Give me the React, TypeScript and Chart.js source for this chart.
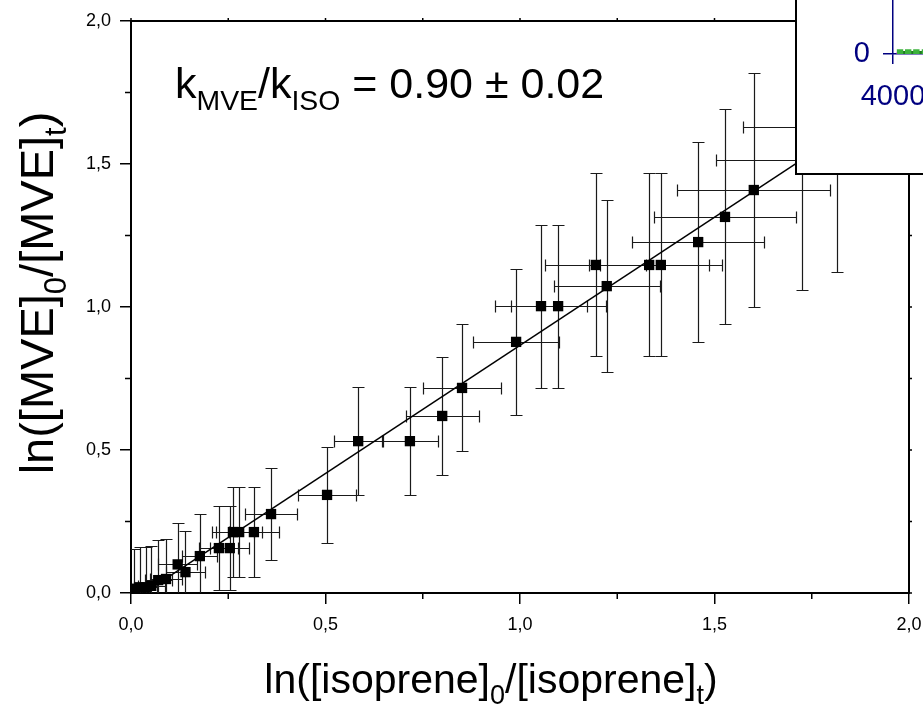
import React, { useEffect, useRef } from 'react';
import { Chart, registerables } from 'chart.js';

Chart.register(...registerables);

// ---------- data ----------
const isopreneLn = [0.008, 0.022, 0.038, 0.052, 0.07, 0.09, 0.12, 0.14, 0.177, 0.226, 0.254, 0.262, 0.278, 0.316, 0.36, 0.504, 0.584, 0.717, 0.80, 0.851, 0.99, 1.054, 1.098, 1.195, 1.223, 1.332, 1.362, 1.458, 1.527, 1.601, 1.725, 1.815];
const mveLn = [0.015, 0.02, 0.02, 0.025, 0.045, 0.049, 0.10, 0.073, 0.129, 0.157, 0.157, 0.213, 0.213, 0.213, 0.276, 0.343, 0.531, 0.531, 0.619, 0.717, 0.878, 1.003, 1.003, 1.147, 1.073, 1.147, 1.147, 1.227, 1.315, 1.409, 1.514, 1.63];
const isopreneErr = [0.02, 0.025, 0.03, 0.035, 0.035, 0.04, 0.05, 0.05, 0.045, 0.05, 0.05, 0.055, 0.06, 0.065, 0.067, 0.075, 0.063, 0.072, 0.094, 0.10, 0.11, 0.118, 0.122, 0.13, 0.136, 0.154, 0.157, 0.17, 0.183, 0.197, 0.221, 0.242];
const mveErr = [0.14, 0.14, 0.14, 0.14, 0.14, 0.14, 0.145, 0.145, 0.147, 0.147, 0.147, 0.157, 0.157, 0.157, 0.16, 0.168, 0.19, 0.19, 0.206, 0.222, 0.255, 0.285, 0.285, 0.32, 0.30, 0.32, 0.32, 0.35, 0.376, 0.41, 0.455, 0.508];

const fitLineX = [0, 2];
const fitLineY = [-0.03, 1.762];

const majorTicks = [0, 0.5, 1.0, 1.5, 2.0];
const minorTicks = [0.25, 0.75, 1.25, 1.75];

// inset (mostly cropped away in the reference)
const insetTime = [4090, 4195, 4300, 4410, 4520, 4630];
const insetGreen = [25, 25, 25, 25, 25, 25];
const insetMagenta = [10, 10, 10, 10, 10, 10];

// texts
const xTitleParts = [
  { t: 'ln([isoprene]' }, { t: '0', sub: true }, { t: '/[isoprene]' }, { t: 't', sub: true }, { t: ')' },
];
const yTitleParts = [
  { t: 'ln([MVE]' }, { t: '0', sub: true }, { t: '/[MVE]' }, { t: 't', sub: true }, { t: ')' },
];
const annotationParts = [
  { t: 'k' }, { t: 'MVE', sub: true }, { t: '/k' }, { t: 'ISO', sub: true }, { t: ' = 0.90 ± 0.02' },
];

const FONT = "'Liberation Sans', Arial, sans-serif";
const SUB = 0.66;

type Part = { t: string; sub?: boolean };

function richWidth(ctx: CanvasRenderingContext2D, parts: Part[], size: number) {
  let w = 0;
  for (const p of parts) {
    ctx.font = `${p.sub ? size * SUB : size}px ${FONT}`;
    w += ctx.measureText(p.t).width;
  }
  return w;
}

function drawRich(ctx: CanvasRenderingContext2D, parts: Part[], size: number, x: number, y: number) {
  let cx = x;
  ctx.textBaseline = 'alphabetic';
  ctx.textAlign = 'left';
  for (const p of parts) {
    const fs = p.sub ? size * SUB : size;
    ctx.font = `${fs}px ${FONT}`;
    ctx.fillText(p.t, cx, p.sub ? y + size * 0.28 : y);
    cx += ctx.measureText(p.t).width;
  }
}

const fmt = (v: number) => v.toFixed(1).replace('.', ',');

const errorBarPlugin = {
  id: 'errorBars',
  beforeDatasetsDraw(chart: any) {
    const { ctx, chartArea, scales } = chart;
    const xs = scales.x;
    const ys = scales.y;
    ctx.save();
    ctx.beginPath();
    ctx.rect(chartArea.left, chartArea.top, chartArea.right - chartArea.left, chartArea.bottom - chartArea.top);
    ctx.clip();
    ctx.strokeStyle = '#1a1a1a';
    ctx.lineWidth = 1.2;
    const cap = 6;
    for (let i = 0; i < isopreneLn.length; i++) {
      const px = Math.round(xs.getPixelForValue(isopreneLn[i])) + 0.5;
      const py = Math.round(ys.getPixelForValue(mveLn[i])) + 0.5;
      const x0 = Math.round(xs.getPixelForValue(isopreneLn[i] - isopreneErr[i])) + 0.5;
      const x1 = Math.round(xs.getPixelForValue(isopreneLn[i] + isopreneErr[i])) + 0.5;
      const y0 = Math.round(ys.getPixelForValue(mveLn[i] - mveErr[i])) + 0.5;
      const y1 = Math.round(ys.getPixelForValue(mveLn[i] + mveErr[i])) + 0.5;
      ctx.beginPath();
      ctx.moveTo(x0, py); ctx.lineTo(x1, py);
      ctx.moveTo(x0, py - cap); ctx.lineTo(x0, py + cap);
      ctx.moveTo(x1, py - cap); ctx.lineTo(x1, py + cap);
      ctx.moveTo(px, y0); ctx.lineTo(px, y1);
      ctx.moveTo(px - cap, y0); ctx.lineTo(px + cap, y0);
      ctx.moveTo(px - cap, y1); ctx.lineTo(px + cap, y1);
      ctx.stroke();
    }
    ctx.restore();
  },
};

const decorPlugin = {
  id: 'decor',
  afterDraw(chart: any) {
    const { ctx, chartArea, scales } = chart;
    const xs = scales.x;
    const ys = scales.y;
    ctx.save();
    // minor ticks (outward)
    ctx.strokeStyle = '#000';
    ctx.lineWidth = 1.5;
    ctx.beginPath();
    for (const v of minorTicks) {
      const px = xs.getPixelForValue(v);
      ctx.moveTo(px, chartArea.bottom);
      ctx.lineTo(px, chartArea.bottom + 6);
      const py = ys.getPixelForValue(v);
      ctx.moveTo(chartArea.left, py);
      ctx.lineTo(chartArea.left - 6, py);
    }
    // small ticks on top / right frame
    for (const v of [...majorTicks, ...minorTicks]) {
      const px = xs.getPixelForValue(v);
      ctx.moveTo(px, chartArea.top);
      ctx.lineTo(px, chartArea.top - 3);
      const py = ys.getPixelForValue(v);
      ctx.moveTo(chartArea.right, py);
      ctx.lineTo(chartArea.right + 3, py);
    }
    ctx.stroke();

    ctx.fillStyle = '#000';
    // x title
    const size = 41;
    const wx = richWidth(ctx, xTitleParts, size);
    drawRich(ctx, xTitleParts, size, 491 - wx / 2, 693);
    // y title
    const ySize = 47;
    const wy = richWidth(ctx, yTitleParts, ySize);
    ctx.save();
    ctx.translate(53, 293);
    ctx.rotate(-Math.PI / 2);
    drawRich(ctx, yTitleParts, ySize, -wy / 2, 0);
    ctx.restore();
    // annotation
    drawRich(ctx, annotationParts, 43, 175, 98);
    ctx.restore();
  },
};

function MainChart() {
  const ref = useRef<HTMLCanvasElement>(null);
  useEffect(() => {
    if (!ref.current) return;
    const points = isopreneLn.map((x, i) => ({ x, y: mveLn[i] }));
    const fit = fitLineX.map((x, i) => ({ x, y: fitLineY[i] }));
    const tickFont = { family: FONT, size: 18 };
    const noPad = (s: any) => { s.paddingLeft = 0; s.paddingRight = 0; s.paddingTop = 0; s.paddingBottom = 0; };
    const chart = new Chart(ref.current, {
      type: 'scatter',
      data: {
        datasets: [
          {
            type: 'line',
            data: fit,
            borderColor: '#000',
            borderWidth: 1.5,
            pointRadius: 0,
            fill: false,
          } as any,
          {
            type: 'scatter',
            data: points,
            pointStyle: 'rect',
            pointRadius: 7.3,
            backgroundColor: '#000',
            borderColor: '#000',
            borderWidth: 0,
          },
        ],
      },
      options: {
        animation: false,
        responsive: false,
        layout: { padding: 0 },
        plugins: { legend: { display: false }, tooltip: { enabled: false } },
        scales: {
          x: {
            type: 'linear', position: 'bottom', min: 0, max: 2,
            ticks: { stepSize: 0.5, callback: (v: any) => fmt(Number(v)), font: tickFont, color: '#000', padding: 10, maxRotation: 0 },
            grid: { drawOnChartArea: false, tickLength: 11, color: '#000', lineWidth: 1.5 },
            border: { color: '#000', width: 2 },
            afterFit: (s: any) => { s.height = 114; noPad(s); },
          },
          y: {
            type: 'linear', position: 'left', min: 0, max: 2,
            ticks: { stepSize: 0.5, callback: (v: any) => fmt(Number(v)), font: tickFont, color: '#000', padding: 9 },
            grid: { drawOnChartArea: false, tickLength: 11, color: '#000', lineWidth: 1.5 },
            border: { color: '#000', width: 2 },
            afterFit: (s: any) => { s.width = 131; noPad(s); },
          },
          x2: {
            type: 'linear', position: 'top', min: 0, max: 2,
            ticks: { display: false },
            grid: { display: false },
            border: { display: true, color: '#000', width: 2 },
            afterFit: (s: any) => { s.height = 21; noPad(s); },
          },
          y2: {
            type: 'linear', position: 'right', min: 0, max: 2,
            ticks: { display: false },
            grid: { display: false },
            border: { display: true, color: '#000', width: 2 },
            afterFit: (s: any) => { s.width = 14; noPad(s); },
          },
        },
      } as any,
      plugins: [errorBarPlugin, decorPlugin],
    });
    return () => chart.destroy();
  }, []);
  return <canvas ref={ref} width={923} height={707} style={{ position: 'absolute', left: 0, top: 0, width: 923, height: 707 }} />;
}

function InsetChart() {
  const ref = useRef<HTMLCanvasElement>(null);
  useEffect(() => {
    if (!ref.current) return;
    const navy = '#000080';
    const font = { family: FONT, size: 29 };
    const chart = new Chart(ref.current, {
      type: 'scatter',
      data: {
        datasets: [
          {
            data: insetTime.map((x, i) => ({ x, y: insetGreen[i] })),
            showLine: true,
            borderColor: '#1f7a1f',
            borderWidth: 3,
            pointStyle: 'rect',
            pointRadius: 4.5,
            backgroundColor: '#3cb33c',
            pointBorderWidth: 0,
          },
          {
            data: insetTime.map((x, i) => ({ x, y: insetMagenta[i] })),
            showLine: false,
            pointStyle: 'circle',
            pointRadius: 3.5,
            backgroundColor: '#ff00ff',
            borderColor: '#ff00ff',
            borderWidth: 0,
          },
        ],
      },
      options: {
        animation: false,
        responsive: false,
        layout: { padding: 0 },
        plugins: { legend: { display: false }, tooltip: { enabled: false } },
        scales: {
          x: {
            type: 'linear', position: 'bottom', min: 4000, max: 6000,
            ticks: { stepSize: 2000, font, color: navy, padding: 16, maxRotation: 0, callback: (v: any) => String(v) },
            grid: { drawOnChartArea: false, tickLength: 10, color: navy, lineWidth: 1.5 },
            border: { color: navy, width: 1.5 },
            afterFit: (s: any) => { s.height = 121; },
          },
          y: {
            type: 'linear', position: 'left', min: 0, max: 2000,
            ticks: { stepSize: 2000, font, color: navy, padding: 13, callback: (v: any) => String(v) },
            grid: { drawOnChartArea: false, tickLength: 10, color: navy, lineWidth: 1.5 },
            border: { color: navy, width: 1.5 },
            afterFit: (s: any) => { s.width = 96; },
          },
        },
      } as any,
    });
    return () => chart.destroy();
  }, []);
  return (
    <div style={{ position: 'absolute', left: 795, top: -98, width: 400, height: 273, boxSizing: 'border-box', border: '2px solid #000', background: '#fff', overflow: 'hidden' }}>
      <canvas ref={ref} width={300} height={271} style={{ display: 'block', width: 300, height: 271 }} />
    </div>
  );
}

export default function App() {
  return (
    <div style={{ position: 'fixed', left: 0, top: 0, width: 923, height: 707, overflow: 'hidden', background: '#fff' }}>
      <MainChart />
      <InsetChart />
    </div>
  );
}
